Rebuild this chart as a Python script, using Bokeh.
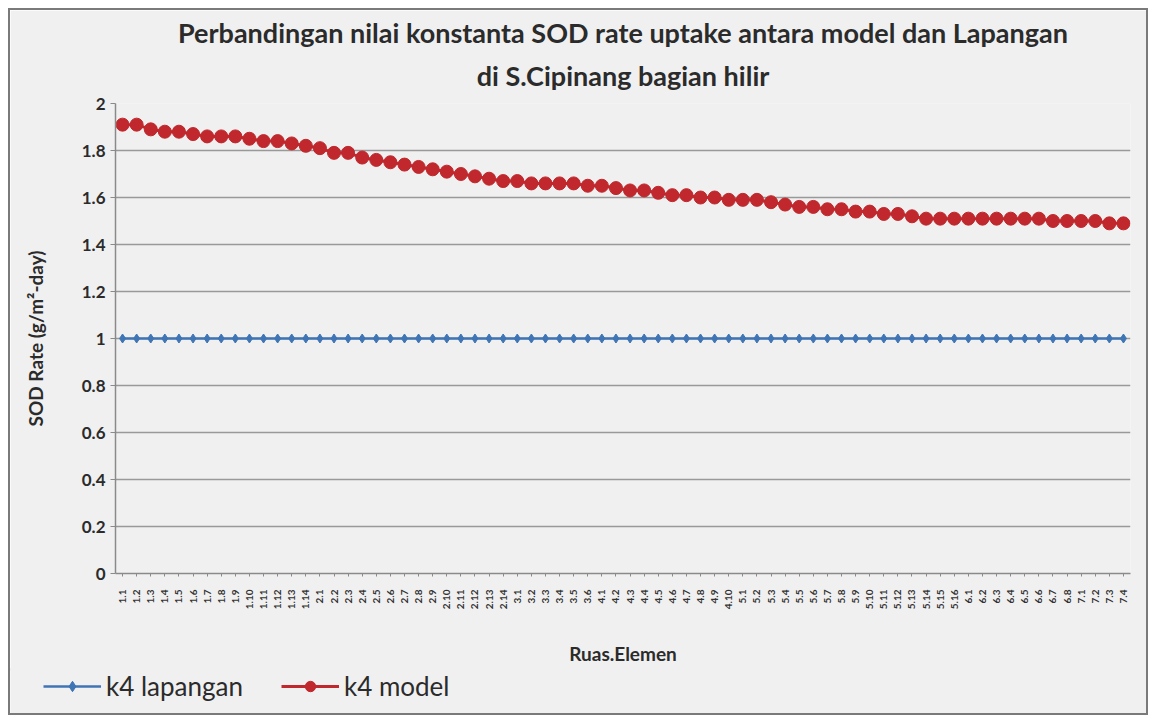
import math
from bokeh.plotting import figure
from bokeh.models import (FactorRange, Range1d, FixedTicker, CustomJSTickFormatter,
                          Legend, LegendItem, Title)
from bokeh.embed import file_html
from bokeh.resources import INLINE

# ---- data ----
elements = [
    "1.1", "1.2", "1.3", "1.4", "1.5", "1.6", "1.7", "1.8", "1.9", "1.10", "1.11", "1.12", "1.13", "1.14",
    "2.1", "2.2", "2.3", "2.4", "2.5", "2.6", "2.7", "2.8", "2.9", "2.10", "2.11", "2.12", "2.13", "2.14",
    "3.1", "3.2", "3.3", "3.4", "3.5", "3.6",
    "4.1", "4.2", "4.3", "4.4", "4.5", "4.6", "4.7", "4.8", "4.9", "4.10",
    "5.1", "5.2", "5.3", "5.4", "5.5", "5.6", "5.7", "5.8", "5.9", "5.10", "5.11", "5.12", "5.13", "5.14",
    "5.15", "5.16",
    "6.1", "6.2", "6.3", "6.4", "6.5", "6.6", "6.7", "6.8",
    "7.1", "7.2", "7.3", "7.4",
]

k4_model = [
    1.91, 1.91, 1.89, 1.88, 1.88, 1.87, 1.86, 1.86, 1.86, 1.85, 1.84, 1.84, 1.83, 1.82,
    1.81, 1.79, 1.79, 1.77, 1.76, 1.75, 1.74, 1.73, 1.72, 1.71, 1.70, 1.69, 1.68, 1.67,
    1.67, 1.66, 1.66, 1.66, 1.66, 1.65,
    1.65, 1.64, 1.63, 1.63, 1.62, 1.61, 1.61, 1.60, 1.60, 1.59,
    1.59, 1.59, 1.58, 1.57, 1.56, 1.56, 1.55, 1.55, 1.54, 1.54, 1.53, 1.53, 1.52, 1.51,
    1.51, 1.51,
    1.51, 1.51, 1.51, 1.51, 1.51, 1.51, 1.50, 1.50,
    1.50, 1.50, 1.49, 1.49,
]

k4_lapangan = [
    1.0, 1.0, 1.0, 1.0, 1.0, 1.0, 1.0, 1.0, 1.0, 1.0, 1.0, 1.0, 1.0, 1.0,
    1.0, 1.0, 1.0, 1.0, 1.0, 1.0, 1.0, 1.0, 1.0, 1.0, 1.0, 1.0, 1.0, 1.0,
    1.0, 1.0, 1.0, 1.0, 1.0, 1.0,
    1.0, 1.0, 1.0, 1.0, 1.0, 1.0, 1.0, 1.0, 1.0, 1.0,
    1.0, 1.0, 1.0, 1.0, 1.0, 1.0, 1.0, 1.0, 1.0, 1.0, 1.0, 1.0, 1.0, 1.0,
    1.0, 1.0,
    1.0, 1.0, 1.0, 1.0, 1.0, 1.0, 1.0, 1.0,
    1.0, 1.0, 1.0, 1.0,
]

y_ticks = [0, 0.2, 0.4, 0.6, 0.8, 1.0, 1.2, 1.4, 1.6, 1.8, 2.0]

title_line1 = "Perbandingan nilai konstanta SOD rate uptake antara model dan Lapangan"
title_line2 = "di S.Cipinang bagian hilir"
x_title = "Ruas.Elemen"
y_title = "SOD Rate (g/m\u00b2-day)"
legend_labels = ["k4 lapangan", "k4 model"]

# ---- styling ----
FONT = "Lato"
BG = "#f0f0f0"
RED = "#c0282d"
BLUE = "#3f74b5"
TXT = "#2b2b2b"
BC = "#7a7a7a"
TOP_CSS = (f"-2px 0 0 {BC}, 2px 0 0 {BC}, 0 -2px 0 {BC}, -2px -2px 0 {BC}, "
           f"2px -2px 0 {BC}, 0 3px 0 {BG}, -2px 3px 0 {BC}, 2px 3px 0 {BC}")
BOT_CSS = f"-2px 0 0 {BC}, 2px 0 0 {BC}, 0 2px 0 {BC}, -2px 2px 0 {BC}, 2px 2px 0 {BC}"

p = figure(width=1136, height=658,
           x_range=FactorRange(*elements, range_padding=0),
           y_range=Range1d(0, 2),
           output_backend="svg", toolbar_location=None,
           background_fill_color=BG, border_fill_color=BG,
           min_border_left=105, min_border_right=16,
           min_border_top=93, min_border_bottom=95)
p.outline_line_color = None
p.styles = {"margin-left": "10px", "margin-top": "10px", "box-shadow": TOP_CSS}

# title: two centred lines (inner line added first)
p.add_layout(Title(text=title_line2, align="center", text_font=FONT,
                   text_font_style="bold", text_font_size="27px",
                   text_color=TXT, standoff=24), "above")
p.add_layout(Title(text=title_line1, align="center", text_font=FONT,
                   text_font_style="bold", text_font_size="27px",
                   text_color=TXT, standoff=-8), "above")

# grid
p.xgrid.visible = False
p.ygrid.grid_line_color = "#999999"
p.ygrid.grid_line_width = 1.5

# y axis
p.yaxis.ticker = FixedTicker(ticks=y_ticks)
p.yaxis.formatter = CustomJSTickFormatter(code="return (Math.round(tick*10)/10).toString();")
p.yaxis.major_label_text_font = FONT
p.yaxis.major_label_text_font_style = "bold"
p.yaxis.major_label_text_font_size = "17px"
p.yaxis.major_label_text_color = TXT
p.yaxis.axis_line_color = "#8a8a8a"
p.yaxis.axis_line_width = 1.5
p.yaxis.major_tick_line_color = "#8a8a8a"
p.yaxis.major_tick_in = 0
p.yaxis.major_tick_out = 5
p.yaxis.minor_tick_line_color = None
p.yaxis.axis_label = y_title
p.yaxis.axis_label_text_font = FONT
p.yaxis.axis_label_text_font_style = "bold"
p.yaxis.axis_label_text_font_size = "19px"
p.yaxis.axis_label_text_color = TXT
p.yaxis.axis_label_standoff = 32

# x axis
p.xaxis.major_label_orientation = math.pi / 2
p.xaxis.major_label_text_font = FONT
p.xaxis.major_label_text_font_style = "bold"
p.xaxis.major_label_text_font_size = "10px"
p.xaxis.major_label_text_color = "#333333"
p.xaxis.axis_line_color = "#8a8a8a"
p.xaxis.axis_line_width = 1.5
p.xaxis.major_tick_line_color = "#8a8a8a"
p.xaxis.major_tick_in = 0
p.xaxis.major_tick_out = 3
p.xaxis.major_label_standoff = 13
p.xaxis.axis_label = x_title
p.xaxis.axis_label_text_font = FONT
p.xaxis.axis_label_text_font_style = "bold"
p.xaxis.axis_label_text_font_size = "19px"
p.xaxis.axis_label_text_color = TXT
p.xaxis.axis_label_standoff = 30

# series
p.line(elements, k4_lapangan, line_color=BLUE, line_width=2.5)
p.scatter(elements, k4_lapangan, marker="diamond", size=9,
          fill_color=BLUE, line_color=BLUE)
p.line(elements, k4_model, line_color=RED, line_width=3)
p.scatter(elements, k4_model, marker="circle", size=13,
          fill_color=RED, line_color=RED)

# ---- legend strip below the chart (same series, drawn out of view) ----
q = figure(width=1136, height=45,
           x_range=FactorRange(*elements, range_padding=0), y_range=Range1d(10, 11),
           output_backend="svg", toolbar_location=None,
           background_fill_color=BG, border_fill_color=BG,
           min_border=0, x_axis_type=None, y_axis_type=None)
q.outline_line_color = None
q.grid.visible = False
q.styles = {"margin-left": "10px", "box-shadow": BOT_CSS}
lb = q.line(elements, k4_lapangan, line_color=BLUE, line_width=2.5)
sb = q.scatter(elements, k4_lapangan, marker="diamond", size=9,
               fill_color=BLUE, line_color=BLUE)
lr = q.line(elements, k4_model, line_color=RED, line_width=3)
sr = q.scatter(elements, k4_model, marker="circle", size=10,
               fill_color=RED, line_color=RED)
legend = Legend(items=[LegendItem(label=legend_labels[0], renderers=[lb, sb]),
                       LegendItem(label=legend_labels[1], renderers=[lr, sr])],
                orientation="horizontal", location=(33, 11),
                background_fill_alpha=0, border_line_color=None,
                padding=0, margin=0, spacing=38,
                glyph_width=58, glyph_height=26, label_height=26,
                label_standoff=5,
                label_text_font=FONT, label_text_font_size="26px",
                label_text_color=TXT)
q.add_layout(legend)

open("out.html", "w").write(file_html([p, q], INLINE))
